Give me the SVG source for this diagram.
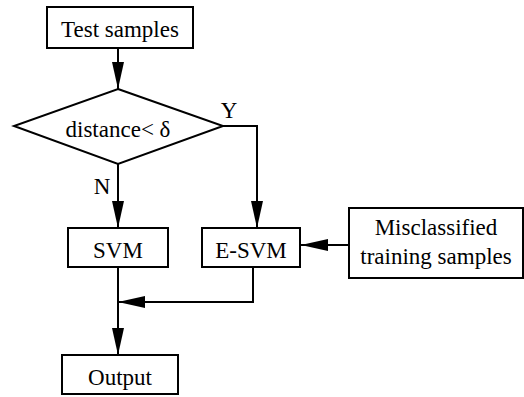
<svg xmlns="http://www.w3.org/2000/svg" width="524" height="397" viewBox="0 0 524 397">
<defs>
<style>
.box{fill:#fff;stroke:#000;stroke-width:2}
.t{font-family:"Liberation Serif","Times New Roman",serif;font-size:23px;fill:#000;text-anchor:middle}
.c{fill:none;stroke:#000;stroke-width:2}
</style>
<marker id="ah" markerUnits="userSpaceOnUse" markerWidth="28" markerHeight="12" refX="27" refY="6" orient="auto">
<path d="M0,0 L27,6 L0,12 Z" fill="#000"/>
</marker>
</defs>
<rect width="524" height="397" fill="#fff"/>
<g id="connectors">
<path class="c" d="M118,48 V89" marker-end="url(#ah)"/>
<path class="c" d="M118,164 V228" marker-end="url(#ah)"/>
<path class="c" d="M223,126 H257 V228" marker-end="url(#ah)"/>
<path class="c" d="M349,245 H301" marker-end="url(#ah)"/>
<path class="c" d="M253,267 V302 H118" marker-end="url(#ah)"/>
<path class="c" d="M118,267 V355" marker-end="url(#ah)"/>
</g>
<g id="test-samples">
<rect class="box" x="47" y="7" width="146" height="41"/>
<text class="t" x="120" y="37">Test samples</text>
</g>
<g id="decision">
<polygon class="box" points="118,89 223,126 118,164 14,126"/>
<text class="t" x="118" y="137">distance&lt; δ</text>
</g>
<g id="labels">
<text class="t" x="229" y="118">Y</text>
<text class="t" x="102" y="194">N</text>
</g>
<g id="svm">
<rect class="box" x="68" y="228" width="100" height="39"/>
<text class="t" x="118" y="258">SVM</text>
</g>
<g id="esvm">
<rect class="box" x="202" y="228" width="98" height="39"/>
<text class="t" x="251" y="258">E-SVM</text>
</g>
<g id="misclassified">
<rect class="box" x="349" y="208" width="174" height="70"/>
<text class="t" x="436" y="235">Misclassified</text>
<text class="t" x="436" y="264">training samples</text>
</g>
<g id="output">
<rect class="box" x="62" y="355" width="116" height="39"/>
<text class="t" x="120" y="385">Output</text>
</g>
</svg>
